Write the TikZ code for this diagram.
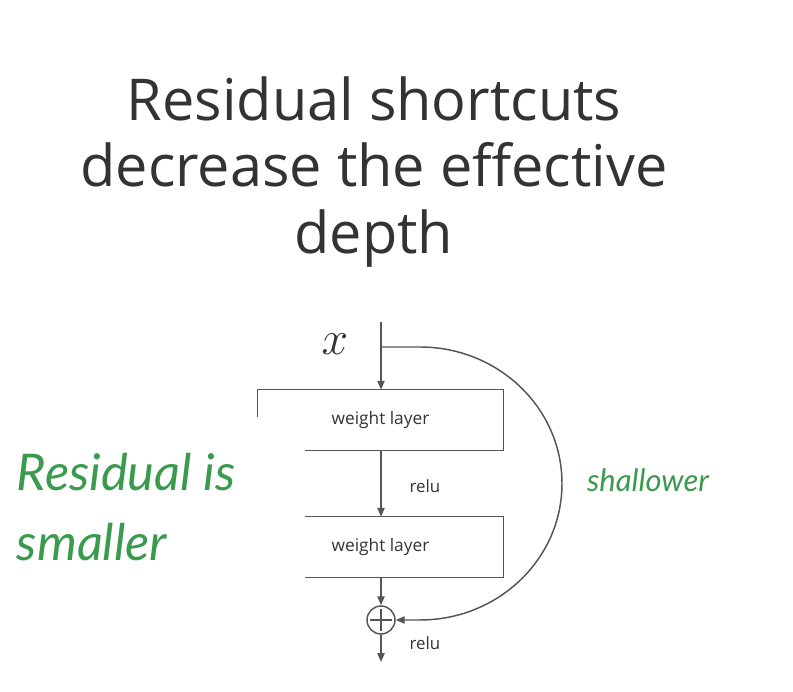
\RequirePackage{fix-cm}
\documentclass[tikz,border=0pt]{standalone}
\usepackage{fontspec}
\setmainfont{Open Sans}
\newfontfamily\handfont{Lato}
\usetikzlibrary{
  positioning,
  arrows.meta,
  calc,
}
\definecolor{border}{HTML}{555555}
\definecolor{textMain}{HTML}{333333}
\definecolor{noteGreen}{HTML}{3A9A4E}
\tikzset{
  layerbox/.style={
    rectangle, minimum width=6.125cm, minimum height=1.5cm,
    align=center, font=\fontsize{12.3}{14}\selectfont, text=textMain, inner sep=0pt,
  },
  edge/.style={border, line width=1.05pt},
  arrow/.style={-{Triangle[length=2.2mm, width=1.8mm]}, border, line width=1.05pt},
  relulabel/.style={font=\fontsize{12}{14}\selectfont, text=textMain},
  note/.style={font=\handfont\itshape, text=noteGreen, align=left},
}

\begin{document}
\begin{tikzpicture}
  \useasboundingbox (0,0) rectangle (19.825,17.3);

  \node[font=\fontsize{41}{47.5}\selectfont, text=textMain, align=center] (title) at (9.35, 13.0)
    {Residual shortcuts\\decrease the effective\\depth};

  % Block
  \node[font=\fontsize{34}{36}\selectfont, text=textMain] (xin) at (8.375, 8.7) {$x$};
  \coordinate (top) at (9.525, 9.25);
  \coordinate (split) at (9.525, 8.625);

  \node[layerbox] (wl1) at (9.5125, 6.8) {weight layer};
  \node[layerbox] (wl2) at (9.5125, 3.625) {weight layer};
  \node[circle, draw=border, line width=1.05pt, minimum size=0.7cm, inner sep=0pt] (plus) at (9.525, 1.8) {};
  \draw[edge] ($(plus.north)+(0,-0.1)$) -- ($(plus.south)+(0,0.1)$)
    ($(plus.west)+(0.1,0)$) -- ($(plus.east)+(-0.1,0)$);
  \coordinate (out) at (9.525, 0.75);

  % open frames of the two layers
  \draw[edge] ($(wl1.north west)+(0,-0.675)$) -- (wl1.north west) -- (wl1.north east)
    -- (wl1.south east) -- ($(wl1.south west)+(1.175,0)$);
  \draw[edge] ($(wl2.north west)+(1.175,0)$) -- (wl2.north east)
    -- (wl2.south east) -- ($(wl2.south west)+(1.175,0)$);

  \draw[arrow] (top) -- (wl1.north -| top);
  \draw[arrow] (wl1.south -| top) -- (wl2.north -| top);
  \draw[arrow] (wl2.south -| top) -- (plus.north);
  \draw[arrow] (plus.south) -- (out);

  \node[relulabel] (relu1) at (10.625, 5.15) {relu};
  \node[relulabel] (relu2) at (10.625, 1.225) {relu};

  % shortcut
  \draw[arrow] (split) -- ++(0.975, 0) arc[start angle=90, end angle=-90, x radius=3.55, y radius=3.4125]
    -- (plus.east);

  % notes
  \node[note, font=\handfont\itshape\fontsize{36}{49.7}\selectfont, anchor=west] (resnote) at (0.3, 4.62)
    {Residual is\\smaller};
  \node[note, font=\handfont\itshape\fontsize{22}{24}\selectfont] (shallow) at (16.2, 5.3) {shallower};

\end{tikzpicture}
\end{document}
